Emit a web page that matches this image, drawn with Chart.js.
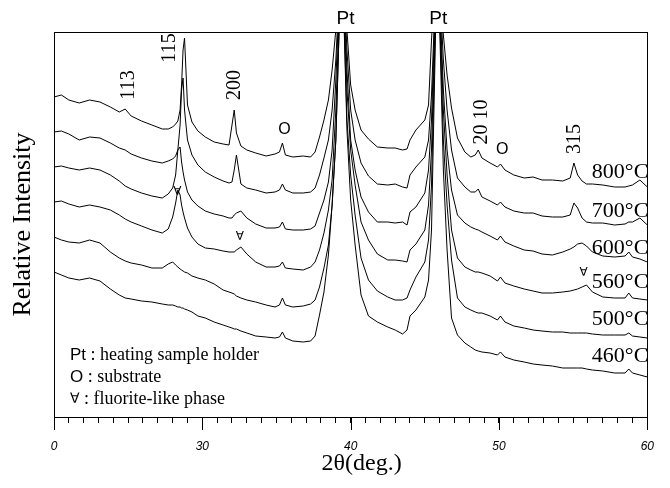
<!DOCTYPE html>
<html>
<head>
<meta charset="utf-8">
<title>XRD patterns vs temperature</title>
<script src="https://cdn.jsdelivr.net/npm/chart.js@4.4.1/dist/chart.umd.min.js"></script>
<style>
  body { margin: 0; background: #fff; }
  canvas { display: block; }
</style>
</head>
<body>
<canvas id="chart" width="670" height="488"></canvas>
<script>
"use strict";

// 2theta grid shared by all patterns (deg.)
let twoTheta = [20.0, 20.5, 21.0, 21.7, 22.4, 23.1, 23.8, 24.4, 24.8, 25.2,
  25.9, 26.6, 27.3, 27.7, 28.0, 28.2, 28.35, 28.5, 28.6, 28.7,
  28.8, 29.0, 29.3, 29.7, 30.2, 30.8, 31.4, 31.8, 32.0, 32.15,
  32.3, 32.6, 33.0, 33.6, 34.3, 34.9, 35.2, 35.4, 35.6, 36.1,
  36.8, 37.3, 37.6, 37.9, 38.2, 38.5, 38.75, 39.0, 39.4, 39.75,
  40.0, 40.3, 40.7, 41.2, 41.8, 42.5, 43.0, 43.5, 43.8, 44.0,
  44.4, 45.0, 45.25, 45.45, 45.85, 46.25, 46.5, 46.8, 47.2, 47.7,
  48.1, 48.4, 48.6, 48.85, 49.4, 49.9, 50.1, 50.4, 51.0, 51.7,
  52.3, 52.9, 53.6, 54.3, 54.8, 55.05, 55.3, 55.6, 55.9, 56.3,
  57.0, 57.8, 58.5, 58.75, 59.0, 59.5, 60.0];

let temperatures = ['800°C', '700°C', '600°C', '560°C', '500°C', '460°C'];

// relative intensity (stacked, arbitrary units)
let int800 = [320, 322, 317, 314, 317, 315, 310, 305, 308, 301, 296, 292, 288, 288, 290, 293, 296, 307, 332, 367,
  379, 312, 295, 286, 280, 275, 273, 272, 292, 307, 284, 271, 267, 264, 261, 263, 265, 274, 262, 260,
  261, 260, 265, 280, 297, 317, 347, 387, 477, 387, 332, 307, 287, 278, 270, 269, 269, 267, 268, 277,
  287, 297, 312, 377, 477, 382, 342, 309, 279, 265, 260, 262, 267, 259, 254, 250, 253, 247, 242, 239,
  240, 237, 237, 236, 239, 254, 242, 236, 233, 233, 232, 230, 230, 231, 232, 237, 230];
let int700 = [285, 286, 283, 277, 280, 279, 274, 269, 267, 263, 259, 256, 254, 256, 258, 261, 267, 292, 327, 339,
  307, 277, 262, 252, 245, 240, 236, 234, 235, 247, 262, 233, 229, 227, 224, 225, 227, 233, 227, 224,
  224, 225, 229, 242, 259, 277, 307, 357, 477, 367, 307, 277, 254, 241, 233, 232, 233, 230, 229, 242,
  250, 260, 277, 322, 477, 357, 307, 267, 239, 230, 225, 225, 228, 220, 216, 212, 215, 210, 206, 204,
  204, 201, 200, 200, 202, 214, 209, 199, 195, 194, 194, 192, 193, 195, 195, 199, 192];
let int600 = [250, 251, 249, 247, 249, 247, 242, 236, 231, 228, 224, 221, 219, 223, 229, 242, 267, 270, 255, 245,
  237, 225, 217, 211, 206, 203, 201, 199, 199, 202, 204, 206, 199, 193, 189, 189, 190, 195, 188, 187,
  187, 188, 191, 204, 217, 235, 267, 337, 477, 347, 277, 247, 220, 205, 195, 195, 194, 195, 192, 205,
  210, 224, 247, 297, 477, 327, 267, 227, 202, 194, 190, 188, 187, 185, 181, 177, 181, 175, 171, 167,
  166, 163, 162, 165, 168, 170, 173, 174, 171, 165, 161, 160, 161, 165, 160, 158, 155];
let int560 = [215, 216, 213, 210, 212, 210, 207, 202, 198, 195, 191, 187, 184, 188, 200, 214, 227, 222, 212, 205,
  199, 189, 180, 173, 169, 168, 166, 165, 165, 165, 167, 170, 163, 155, 150, 150, 151, 155, 149, 148,
  147, 150, 155, 167, 184, 207, 237, 307, 477, 327, 267, 232, 195, 177, 163, 157, 157, 156, 155, 167,
  173, 187, 212, 267, 477, 307, 242, 187, 159, 150, 147, 145, 145, 144, 141, 136, 140, 134, 131, 128,
  126, 124, 124, 125, 126, 127, 128, 130, 132, 125, 120, 119, 119, 124, 119, 118, 117];
let int500 = [180, 177, 175, 174, 177, 174, 165, 159, 156, 154, 152, 149, 149, 153, 155, 152, 150, 148, 147, 146,
  145, 144, 141, 139, 137, 133, 127, 125, 124, 123, 121, 119, 117, 115, 112, 110, 112, 119, 112, 110,
  111, 113, 117, 130, 149, 172, 212, 277, 477, 297, 242, 202, 159, 137, 126, 120, 117, 117, 119, 127,
  140, 155, 177, 232, 477, 277, 212, 157, 119, 110, 107, 105, 104, 104, 101, 97, 101, 95, 91, 89,
  87, 86, 85, 85, 84, 84, 84, 84, 84, 83, 82, 82, 82, 84, 81, 80, 79];
let int460 = [145, 142, 139, 137, 139, 136, 128, 122, 119, 118, 116, 115, 113, 112, 112, 111, 110, 110, 109, 109,
  108, 107, 105, 101, 99, 95, 92, 90, 89, 88, 88, 86, 84, 81, 80, 79, 80, 85, 79, 76,
  75, 76, 81, 102, 125, 162, 212, 277, 477, 287, 217, 172, 122, 101, 95, 90, 87, 83, 87, 101,
  107, 120, 137, 187, 477, 247, 167, 99, 82, 74, 70, 67, 66, 65, 64, 62, 65, 60, 57, 55,
  53, 52, 51, 49, 49, 49, 49, 49, 48, 47, 46, 44, 44, 48, 44, 42, 40];

let tickValues = [20, 30, 40, 50, 60];
let tickLabels = ['0', '30', '40', '50', '60'];

let serif = 'Liberation Serif';
let sans = 'Liberation Sans';

function drawText(ctx, text, x, y, font, align, rotate) {
  ctx.save();
  ctx.translate(x, y);
  if (rotate) {
    ctx.rotate(-Math.PI / 2);
  }
  ctx.font = font;
  ctx.textAlign = align || 'center';
  ctx.textBaseline = 'middle';
  ctx.fillStyle = '#000';
  ctx.fillText(text, 0, 0);
  ctx.restore();
}

let labelsPlugin = {
  id: 'xrdLabels',
  afterDraw(chart) {
    let ctx = chart.ctx;
    let xs = chart.scales.x;
    let ys = chart.scales.y;
    let area = chart.chartArea;
    let px = v => xs.getPixelForValue(v);
    let py = v => ys.getPixelForValue(v);

    // box round the plot
    ctx.save();
    ctx.strokeStyle = '#000';
    ctx.lineWidth = 1;
    ctx.strokeRect(Math.round(area.left) + 0.5, Math.round(area.top) + 0.5,
      Math.round(area.right - area.left), Math.round(area.bottom - area.top));
    // longer ticks at the labelled values
    ctx.beginPath();
    tickValues.forEach(v => {
      let x = Math.round(px(v)) + 0.5;
      ctx.moveTo(x, area.bottom);
      ctx.lineTo(x, area.bottom + 13);
    });
    ctx.stroke();
    ctx.restore();

    // reflection indices
    let peakFont = '20px "' + serif + '"';
    drawText(ctx, '113', px(25.03), py(332), peakFont, 'center', true);
    drawText(ctx, '115', px(27.77), py(369), peakFont, 'center', true);
    drawText(ctx, '200', px(32.19), py(332), peakFont, 'center', true);
    drawText(ctx, '20 10', px(48.81), py(295), peakFont, 'center', true);
    drawText(ctx, '315', px(55.11), py(278), peakFont, 'center', true);

    // substrate and fluorite markers
    drawText(ctx, 'O', px(35.54), py(287), '16px "' + sans + '"');
    drawText(ctx, 'O', px(50.22), py(267), '16px "' + sans + '"');
    drawText(ctx, '∀', px(28.31), py(225), '12px "DejaVu Sans"');
    drawText(ctx, '∀', px(32.53), py(180), '12px "DejaVu Sans"');
    drawText(ctx, '∀', px(55.71), py(144), '12px "DejaVu Sans"');

    // Pt peaks above the frame
    drawText(ctx, 'Pt', px(39.65), area.top - 13, '19px "' + sans + '"');
    drawText(ctx, 'Pt', px(45.9), area.top - 13, '19px "' + sans + '"');

    // temperatures at the right end of each pattern
    let tempY = [245, 206, 169, 135, 98, 61];
    temperatures.forEach((t, i) => {
      drawText(ctx, t, area.right + 1, py(tempY[i]), '22px "' + serif + '"', 'right');
    });

    // key in the lower left corner
    let keyX = area.left + 16;
    let keyRows = [['Pt', sans, ' : heating sample holder'], ['O', sans, ' : substrate'], ['∀', 'DejaVu Sans', ' : fluorite-like phase']];
    keyRows.forEach((row, i) => {
      let y = area.bottom - 62 + i * 22;
      let symFont = (row[0] === '∀' ? '14px "' : '17px "') + row[1] + '"';
      ctx.save();
      ctx.font = symFont;
      let w = ctx.measureText(row[0]).width;
      ctx.restore();
      drawText(ctx, row[0], keyX, y, symFont, 'left');
      drawText(ctx, row[2], keyX + w, y, '18px "' + serif + '"', 'left');
    });

    // x axis title
    drawText(ctx, '2θ(deg.)', (area.left + area.right) / 2 + 11, area.bottom + 47, '24px "' + serif + '"');
  }
};

let series = [int800, int700, int600, int560, int500, int460];
let datasets = series.map((values, i) => ({
  label: temperatures[i],
  data: values.map((v, j) => ({ x: twoTheta[j], y: v })),
  borderColor: '#000',
  borderWidth: 1,
  pointRadius: 0,
  fill: false,
  tension: 0
}));

let chart = new Chart(document.getElementById('chart'), {
  type: 'line',
  data: { datasets: datasets },
  options: {
    responsive: false,
    animation: false,
    layout: { padding: { top: 32, right: 19, left: 0, bottom: 0 } },
    plugins: {
      legend: { display: false },
      tooltip: { enabled: false }
    },
    scales: {
      x: {
        type: 'linear',
        min: 20,
        max: 60,
        afterFit: s => { s.height = 71; },
        ticks: {
          stepSize: 1,
          autoSkip: false,
          maxRotation: 0,
          padding: 16,
          color: '#000',
          font: { family: sans, size: 12, style: 'italic' },
          callback: value => {
            let i = tickValues.indexOf(value);
            return i >= 0 ? tickLabels[i] : '';
          }
        },
        grid: { drawOnChartArea: false, tickLength: 6, color: '#000', lineWidth: 1 },
        border: { display: true, color: '#000', width: 1 }
      },
      y: {
        min: 0,
        max: 385,
        afterFit: s => { s.width = 54; },
        ticks: { display: false },
        grid: { display: false },
        border: { display: false },
        title: {
          display: true,
          text: 'Relative Intensity',
          color: '#000',
          font: { family: serif, size: 26 },
          padding: { top: 8, bottom: 0 }
        }
      }
    }
  },
  plugins: [labelsPlugin]
});
</script>
</body>
</html>
